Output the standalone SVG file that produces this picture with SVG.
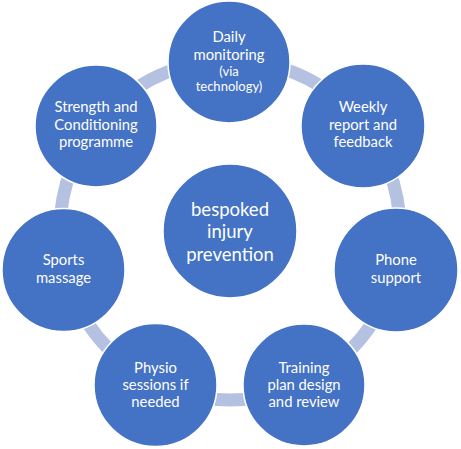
<svg xmlns="http://www.w3.org/2000/svg" width="461" height="449" viewBox="0 0 461 449">
<style>
.n{fill:#4472C4;stroke:#FFFFFF;stroke-width:1.5}
.t{fill:#FFFFFF;font-family:Lato,"Open Sans",sans-serif;font-size:14.8px;text-anchor:middle}
.s{font-size:13px}
.c{font-size:18.5px}
</style>
<rect width="461" height="449" fill="#FFFFFF"/>
<g id="connectors">
<circle cx="230" cy="230" r="170" fill="none" stroke="#B4C1E0" stroke-width="13"/>
</g>
<g id="center">
<circle class="n" cx="230" cy="231" r="67"/>
<text class="t c" x="230" y="216">bespoked</text>
<text class="t c" x="230" y="238">injury</text>
<text class="t c" x="230" y="261">prevention</text>
</g>
<g id="daily">
<circle class="n" cx="229" cy="62" r="61"/>
<text class="t" x="229" y="42">Daily</text>
<text class="t" x="229" y="60">monitoring</text>
<text class="t s" x="229" y="76">(via</text>
<text class="t s" x="229" y="91">technology)</text>
</g>
<g id="weekly">
<circle class="n" cx="363" cy="126" r="62"/>
<text class="t" x="363" y="112">Weekly</text>
<text class="t" x="363" y="130">report and</text>
<text class="t" x="363" y="147">feedback</text>
</g>
<g id="phone">
<circle class="n" cx="396" cy="270" r="62"/>
<text class="t" x="396" y="265">Phone</text>
<text class="t" x="396" y="283">support</text>
</g>
<g id="training">
<circle class="n" cx="304" cy="385" r="61"/>
<text class="t" x="304" y="373">Training</text>
<text class="t" x="304" y="390">plan design</text>
<text class="t" x="304" y="407">and review</text>
</g>
<g id="physio">
<circle class="n" cx="155.5" cy="385" r="61.5"/>
<text class="t" x="155.5" y="373">Physio</text>
<text class="t" x="155.5" y="390">sessions if</text>
<text class="t" x="155.5" y="407">needed</text>
</g>
<g id="sports">
<circle class="n" cx="63.5" cy="270" r="61.5"/>
<text class="t" x="63.5" y="265">Sports</text>
<text class="t" x="63.5" y="283">massage</text>
</g>
<g id="strength">
<circle class="n" cx="96" cy="126" r="61"/>
<text class="t" x="96" y="112">Strength and</text>
<text class="t" x="96" y="130">Conditioning</text>
<text class="t" x="96" y="147">programme</text>
</g>
</svg>
